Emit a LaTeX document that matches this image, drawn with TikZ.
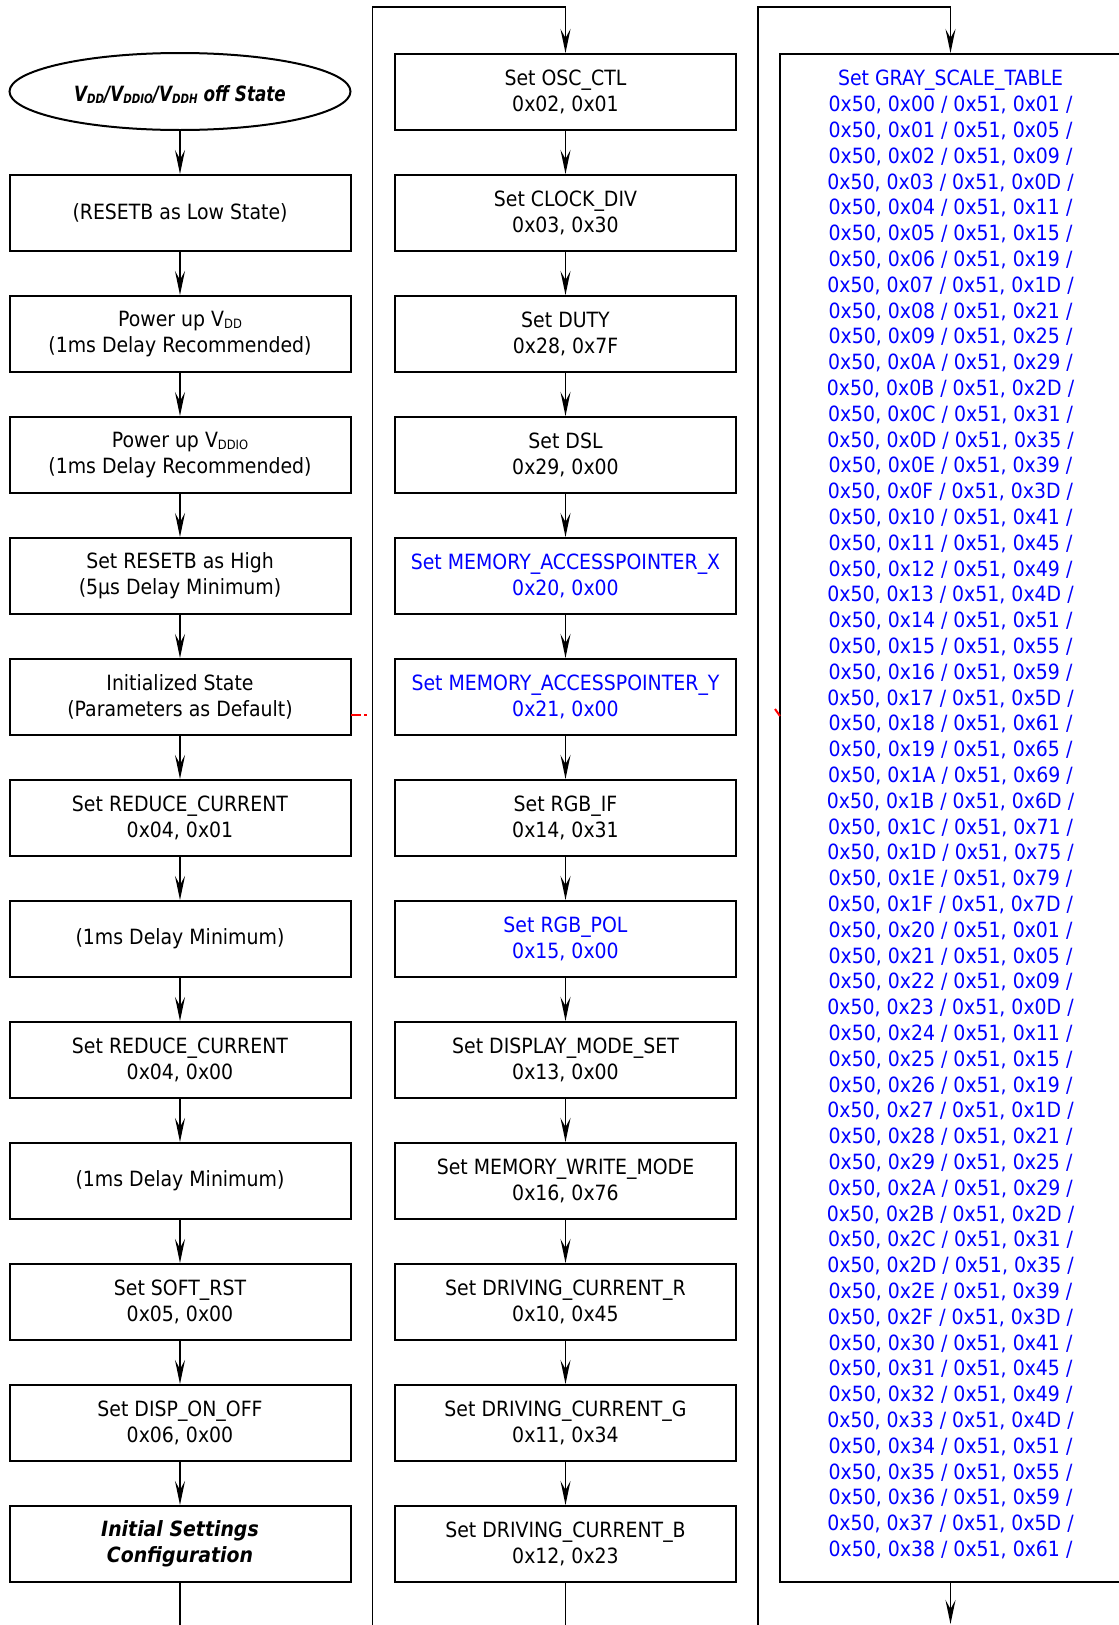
\documentclass[tikz,border=0pt]{standalone}
\usepackage{fontspec}
\usepackage{graphicx}
\setmainfont[FakeStretch=0.9]{DejaVu Sans}
\usetikzlibrary{shapes.geometric,arrows.meta}
\newcommand\fs{\fontsize{21}{25.8}\selectfont}
\newcommand\mysub[1]{\raisebox{-2pt}{\fontsize{12.8}{12.8}\selectfont #1}}
\definecolor{tblue}{RGB}{0,0,255}
\begin{document}
\begin{tikzpicture}[x=1pt,y=-1pt,
  box/.style={draw, line width=2pt, minimum width=341pt, minimum height=76pt, inner sep=0pt, align=center, font=\fs},
  ell/.style={draw, ellipse, line width=2pt, minimum width=341pt, minimum height=77pt, inner sep=0pt, font=\fs\bfseries\itshape},
  arr/.style={-{Stealth[length=24pt,width=10pt,inset=9pt]}, line width=1.5pt},
  conn/.style={line width=1.5pt},
  bl/.style={text=tblue}]
\useasboundingbox (0,0) rectangle (1119,1625);
% left column
\node[ell] (s0) at (180,91.5) {\raisebox{-3pt}[\height][\depth]{\scalebox{0.89}[1]{V\mysub{DD}/V\mysub{DDIO}/V\mysub{DDH} off State}}};
\node[box] (l0) at (180,213) {(RESETB as Low State)};
\node[box] (l1) at (180,334) {Power up V\mysub{DD}\\(1ms Delay Recommended)};
\node[box] (l2) at (180,455) {Power up V\mysub{DDIO}\\(1ms Delay Recommended)};
\node[box] (l3) at (180,576) {Set RESETB as High\\(5μs Delay Minimum)};
\node[box] (l4) at (180,697) {Initialized State\\(Parameters as Default)};
\node[box] (l5) at (180,818) {Set REDUCE\_CURRENT\\0x04, 0x01};
\node[box] (l6) at (180,939) {(1ms Delay Minimum)};
\node[box] (l7) at (180,1060) {Set REDUCE\_CURRENT\\0x04, 0x00};
\node[box] (l8) at (180,1181) {(1ms Delay Minimum)};
\node[box] (l9) at (180,1302) {Set SOFT\_RST\\0x05, 0x00};
\node[box] (l10) at (180,1423) {Set DISP\_ON\_OFF\\0x06, 0x00};
\node[box, font=\fs\bfseries\itshape] (l11) at (180,1544) {Initial Settings\\Configuration};
% middle column
\node[box] (m0) at (565.5,92) {Set OSC\_CTL\\0x02, 0x01};
\node[box] (m1) at (565.5,213) {Set CLOCK\_DIV\\0x03, 0x30};
\node[box] (m2) at (565.5,334) {Set DUTY\\0x28, 0x7F};
\node[box] (m3) at (565.5,455) {Set DSL\\0x29, 0x00};
\node[box, bl] (m4) at (565.5,576) {Set MEMORY\_ACCESSPOINTER\_X\\0x20, 0x00};
\node[box, bl] (m5) at (565.5,697) {Set MEMORY\_ACCESSPOINTER\_Y\\0x21, 0x00};
\node[box] (m6) at (565.5,818) {Set RGB\_IF\\0x14, 0x31};
\node[box, bl] (m7) at (565.5,939) {Set RGB\_POL\\0x15, 0x00};
\node[box] (m8) at (565.5,1060) {Set DISPLAY\_MODE\_SET\\0x13, 0x00};
\node[box] (m9) at (565.5,1181) {Set MEMORY\_WRITE\_MODE\\0x16, 0x76};
\node[box] (m10) at (565.5,1302) {Set DRIVING\_CURRENT\_R\\0x10, 0x45};
\node[box] (m11) at (565.5,1423) {Set DRIVING\_CURRENT\_G\\0x11, 0x34};
\node[box] (m12) at (565.5,1544) {Set DRIVING\_CURRENT\_B\\0x12, 0x23};
% right column
\node[draw, line width=2pt, minimum width=341pt, minimum height=1528pt, inner sep=0pt] (r0) at (950.5,818) {};
\node[anchor=north, inner sep=0pt, align=center, font=\fs, text=tblue] (tbl) at (950.5,70) {Set GRAY\_SCALE\_TABLE\\
0x50, 0x00 / 0x51, 0x01 /\\
0x50, 0x01 / 0x51, 0x05 /\\
0x50, 0x02 / 0x51, 0x09 /\\
0x50, 0x03 / 0x51, 0x0D /\\
0x50, 0x04 / 0x51, 0x11 /\\
0x50, 0x05 / 0x51, 0x15 /\\
0x50, 0x06 / 0x51, 0x19 /\\
0x50, 0x07 / 0x51, 0x1D /\\
0x50, 0x08 / 0x51, 0x21 /\\
0x50, 0x09 / 0x51, 0x25 /\\
0x50, 0x0A / 0x51, 0x29 /\\
0x50, 0x0B / 0x51, 0x2D /\\
0x50, 0x0C / 0x51, 0x31 /\\
0x50, 0x0D / 0x51, 0x35 /\\
0x50, 0x0E / 0x51, 0x39 /\\
0x50, 0x0F / 0x51, 0x3D /\\
0x50, 0x10 / 0x51, 0x41 /\\
0x50, 0x11 / 0x51, 0x45 /\\
0x50, 0x12 / 0x51, 0x49 /\\
0x50, 0x13 / 0x51, 0x4D /\\
0x50, 0x14 / 0x51, 0x51 /\\
0x50, 0x15 / 0x51, 0x55 /\\
0x50, 0x16 / 0x51, 0x59 /\\
0x50, 0x17 / 0x51, 0x5D /\\
0x50, 0x18 / 0x51, 0x61 /\\
0x50, 0x19 / 0x51, 0x65 /\\
0x50, 0x1A / 0x51, 0x69 /\\
0x50, 0x1B / 0x51, 0x6D /\\
0x50, 0x1C / 0x51, 0x71 /\\
0x50, 0x1D / 0x51, 0x75 /\\
0x50, 0x1E / 0x51, 0x79 /\\
0x50, 0x1F / 0x51, 0x7D /\\
0x50, 0x20 / 0x51, 0x01 /\\
0x50, 0x21 / 0x51, 0x05 /\\
0x50, 0x22 / 0x51, 0x09 /\\
0x50, 0x23 / 0x51, 0x0D /\\
0x50, 0x24 / 0x51, 0x11 /\\
0x50, 0x25 / 0x51, 0x15 /\\
0x50, 0x26 / 0x51, 0x19 /\\
0x50, 0x27 / 0x51, 0x1D /\\
0x50, 0x28 / 0x51, 0x21 /\\
0x50, 0x29 / 0x51, 0x25 /\\
0x50, 0x2A / 0x51, 0x29 /\\
0x50, 0x2B / 0x51, 0x2D /\\
0x50, 0x2C / 0x51, 0x31 /\\
0x50, 0x2D / 0x51, 0x35 /\\
0x50, 0x2E / 0x51, 0x39 /\\
0x50, 0x2F / 0x51, 0x3D /\\
0x50, 0x30 / 0x51, 0x41 /\\
0x50, 0x31 / 0x51, 0x45 /\\
0x50, 0x32 / 0x51, 0x49 /\\
0x50, 0x33 / 0x51, 0x4D /\\
0x50, 0x34 / 0x51, 0x51 /\\
0x50, 0x35 / 0x51, 0x55 /\\
0x50, 0x36 / 0x51, 0x59 /\\
0x50, 0x37 / 0x51, 0x5D /\\
0x50, 0x38 / 0x51, 0x61 /};
% coordinates for free ends
\coordinate (lend) at (180,1630);
\coordinate (mstart) at (372.6,1630);
\coordinate (mtop) at (372.6,7);
\coordinate (mend) at (565.5,1630);
\coordinate (rstart) at (758,1630);
\coordinate (rtop) at (758,7);
\coordinate (rend) at (950.5,1624);
% left connectors
\draw[arr] (s0) -- (l0);
\foreach \a/\b in {l0/l1,l1/l2,l2/l3,l3/l4,l4/l5,l5/l6,l6/l7,l7/l8,l8/l9,l9/l10,l10/l11}
  \draw[arr] (\a) -- (\b);
\draw[conn] (l11) -- (lend);
% middle connectors
\draw[arr] (mstart) -- (mtop) -| (m0.north);
\foreach \a/\b in {m0/m1,m1/m2,m2/m3,m3/m4,m4/m5,m5/m6,m6/m7,m7/m8,m8/m9,m9/m10,m10/m11,m11/m12}
  \draw[arr] (\a) -- (\b);
\draw[conn] (m12) -- (mend);
% right connectors
\draw[arr] (rstart) -- (rtop) -| (r0.north);
\draw[arr] (r0.south) -- (rend);
% stray red marks
\draw[red, line width=2.7pt, dash pattern=on 10pt off 3pt on 3pt off 10pt] (351,715) -- (367,715);
\draw[red, line width=2pt] (775,709) -- (780,716);
\end{tikzpicture}
\end{document}
